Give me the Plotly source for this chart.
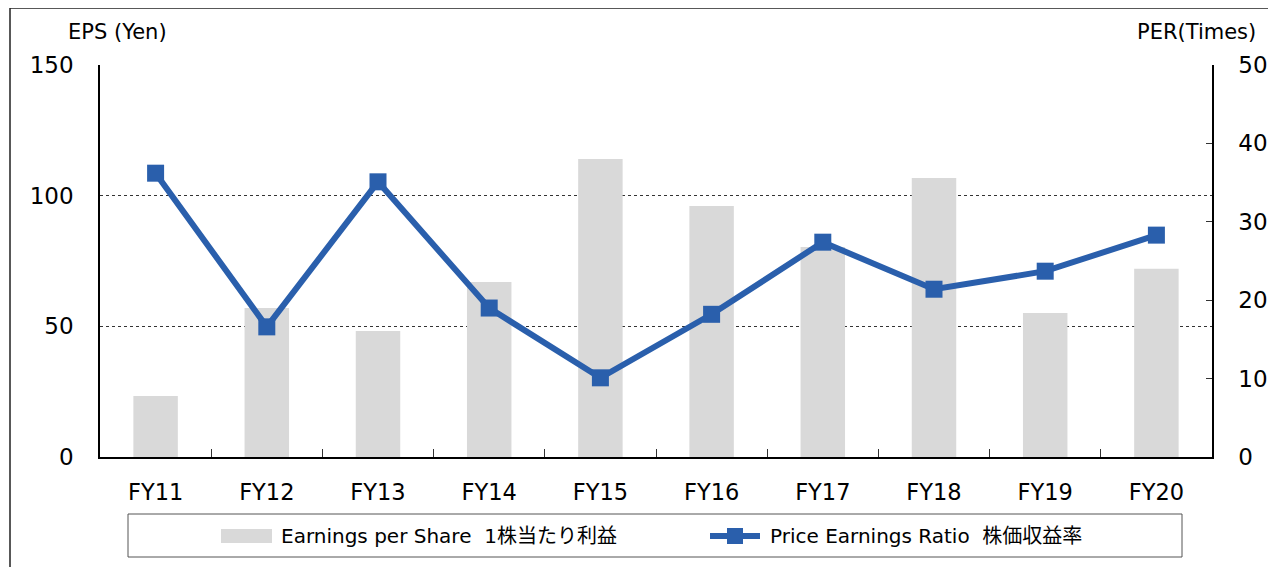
import plotly.graph_objects as go

# page body has an 8px margin; compensate so the picture lines up with the 1276x567 window
OFF = 8
W, H = 1276 - OFF, 567 - OFF

categories = ["FY11", "FY12", "FY13", "FY14", "FY15", "FY16", "FY17", "FY18", "FY19", "FY20"]
eps_values = [23.3, 57.0, 48.2, 67.0, 114.0, 96.0, 80.4, 106.8, 55.1, 72.0]
per_values = [36.2, 16.6, 35.1, 19.0, 10.1, 18.2, 27.4, 21.4, 23.7, 28.3]
eps_name = "Earnings per Share  1株当たり利益"
per_name = "Price Earnings Ratio  株価収益率"
left_title = "EPS (Yen)"
right_title = "PER(Times)"

FONT = "DejaVu Sans, Noto Sans CJK JP, sans-serif"
BAR_COLOR = "#d9d9d9"
LINE_COLOR = "#2a5fac"

def px(x):
    return (x - OFF) / W

def py(y):
    return 1 - (y - OFF) / H

fig = go.Figure()
fig.add_trace(go.Bar(x=categories, y=eps_values, name=eps_name, marker=dict(color=BAR_COLOR, line=dict(width=0)),
                     width=0.4, yaxis="y", showlegend=False))
fig.add_trace(go.Scatter(x=categories, y=per_values, name=per_name, mode="lines+markers",
                         line=dict(color=LINE_COLOR, width=6),
                         marker=dict(symbol="square", size=17, color=LINE_COLOR),
                         yaxis="y2", showlegend=False))

fig.update_layout(
    width=W, height=H, autosize=False,
    margin=dict(l=0, r=0, t=0, b=0, pad=0),
    paper_bgcolor="white", plot_bgcolor="white",
    font=dict(family=FONT, color="black", size=22),
    xaxis=dict(domain=[px(100), px(1212)], type="category", range=[-0.5, len(categories) - 0.5],
               showline=True, linecolor="black", linewidth=1.5,
               ticks="inside", tickson="boundaries", ticklen=8, tickcolor="#333", tickwidth=1,
               showgrid=False, ticklabelstandoff=14, tickfont=dict(size=22.5), automargin=False),
    yaxis=dict(domain=[py(457), py(65)], range=[0, 150], dtick=50, showline=True, linecolor="black",
               linewidth=1.5, ticks="", showgrid=True, gridcolor="#333", griddash="dot", gridwidth=1,
               zeroline=False, ticklabelstandoff=20, tickfont=dict(size=23), automargin=False),
    yaxis2=dict(overlaying="y", side="right", range=[0, 50], dtick=10, showline=True, linecolor="black",
                linewidth=1.5, ticks="inside", ticklen=6, tickcolor="#333", showgrid=False, zeroline=False,
                ticklabelstandoff=20, tickfont=dict(size=23), automargin=False),
)

shapes = []
# outer frame
shapes.append(dict(type="rect", xref="paper", yref="paper", x0=px(10), y0=py(8), x1=1.02, y1=-0.02,
                   line=dict(color="#222", width=1.5), fillcolor="rgba(0,0,0,0)", layer="below"))
# legend box
shapes.append(dict(type="rect", xref="paper", yref="paper", x0=px(128), y0=py(514), x1=px(1182), y1=py(557),
                   line=dict(color="#555", width=1), fillcolor="white"))
# bar swatch
shapes.append(dict(type="rect", xref="paper", yref="paper", x0=px(221), y0=py(529), x1=px(272), y1=py(543),
                   line=dict(width=0), fillcolor=BAR_COLOR))
# line swatch
shapes.append(dict(type="line", xref="paper", yref="paper", x0=px(710), y0=py(536), x1=px(760), y1=py(536),
                   line=dict(color=LINE_COLOR, width=6)))
shapes.append(dict(type="rect", xref="paper", yref="paper", x0=px(727), y0=py(528), x1=px(743), y1=py(544),
                   line=dict(width=0), fillcolor=LINE_COLOR))
fig.update_layout(shapes=shapes)

annotations = [
    dict(text=left_title, x=px(117), y=py(32), xref="paper", yref="paper", showarrow=False,
         xanchor="center", yanchor="middle", font=dict(size=21)),
    dict(text=right_title, x=px(1258), y=py(32), xref="paper", yref="paper", showarrow=False,
         xanchor="right", yanchor="middle", font=dict(size=21)),
    dict(text=eps_name, x=px(279), y=py(536), xref="paper", yref="paper", showarrow=False,
         xanchor="left", yanchor="middle", font=dict(size=20)),
    dict(text=per_name, x=px(768), y=py(536), xref="paper", yref="paper", showarrow=False,
         xanchor="left", yanchor="middle", font=dict(size=20)),
]
fig.update_layout(annotations=annotations)

fig.write_html("out.html")
